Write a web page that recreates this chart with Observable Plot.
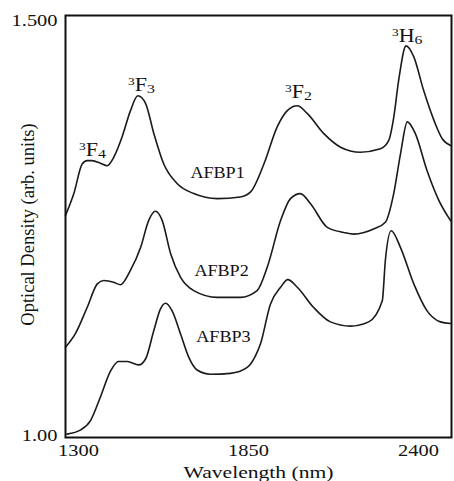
<!DOCTYPE html>
<html>
<head>
<meta charset="utf-8">
<script src="https://cdn.jsdelivr.net/npm/d3@7"></script>
<script src="https://cdn.jsdelivr.net/npm/@observablehq/plot@0.6"></script>
<style>
  html, body { margin: 0; padding: 0; background: #fff; }
  #chart svg { display: block; }
</style>
</head>
<body>
<div id="chart"></div>
<script>
// ---- data ----
const wavelength1 = [1258, 1285, 1312, 1328, 1344, 1371, 1393, 1414, 1441, 1468, 1492, 1517, 1544, 1576, 1619, 1673, 1749, 1824, 1857, 1900, 1943, 1975, 2008, 2040, 2094, 2148, 2212, 2277, 2304, 2320, 2336, 2360, 2385, 2417, 2450, 2477, 2504];
const od1 = [1.263, 1.289, 1.324, 1.328, 1.328, 1.325, 1.322, 1.332, 1.356, 1.387, 1.405, 1.396, 1.360, 1.324, 1.301, 1.289, 1.283, 1.285, 1.291, 1.324, 1.368, 1.387, 1.393, 1.384, 1.360, 1.344, 1.338, 1.342, 1.352, 1.379, 1.423, 1.464, 1.451, 1.411, 1.376, 1.354, 1.346];

const wavelength2 = [1258, 1290, 1328, 1361, 1382, 1414, 1436, 1468, 1501, 1527, 1549, 1571, 1598, 1630, 1673, 1749, 1824, 1878, 1911, 1954, 1986, 2018, 2051, 2105, 2158, 2191, 2255, 2293, 2320, 2342, 2364, 2390, 2428, 2466, 2504];
const od2 = [1.107, 1.123, 1.154, 1.182, 1.186, 1.184, 1.181, 1.198, 1.225, 1.257, 1.268, 1.257, 1.218, 1.190, 1.174, 1.166, 1.166, 1.174, 1.202, 1.257, 1.283, 1.289, 1.277, 1.249, 1.243, 1.241, 1.247, 1.255, 1.289, 1.336, 1.374, 1.360, 1.316, 1.281, 1.257];

const wavelength3 = [1263, 1307, 1339, 1371, 1404, 1430, 1458, 1495, 1517, 1544, 1565, 1582, 1603, 1630, 1657, 1684, 1727, 1792, 1846, 1873, 1889, 1921, 1954, 1977, 2008, 2061, 2115, 2180, 2239, 2283, 2293, 2312, 2342, 2385, 2428, 2471, 2504];
const od3 = [1.004, 1.009, 1.020, 1.048, 1.079, 1.090, 1.090, 1.086, 1.093, 1.127, 1.152, 1.159, 1.150, 1.123, 1.095, 1.080, 1.075, 1.076, 1.083, 1.097, 1.111, 1.158, 1.178, 1.187, 1.178, 1.154, 1.137, 1.132, 1.137, 1.162, 1.210, 1.245, 1.225, 1.182, 1.150, 1.137, 1.135];

const seriesNames = ["AFBP1", "AFBP2", "AFBP3"];
const seriesLabelX = [1750, 1763, 1769];
const seriesLabelY = [1.314, 1.198, 1.119];

const peakNames = ["3F4", "3F3", "3F2", "3H6"];
const peakX = [1345, 1504, 2012, 2364];
const peakY = [1.340, 1.417, 1.409, 1.475];

const xTicks = [1300, 1850, 2400];
const yTicks = [1.0, 1.5];
const yTickLabels = ["1.00", "1.500"];

const xTitle = "Wavelength (nm)";
const yTitle = "Optical Density (arb. units)";

// ---- build tables ----
const curves = [
  ...wavelength1.map((w, i) => ({series: seriesNames[0], w, od: od1[i]})),
  ...wavelength2.map((w, i) => ({series: seriesNames[1], w, od: od2[i]})),
  ...wavelength3.map((w, i) => ({series: seriesNames[2], w, od: od3[i]}))
];
const seriesLabels = seriesNames.map((s, i) => ({s, x: seriesLabelX[i], y: seriesLabelY[i]}));
const peaks = peakNames.map((p, i) => ({p, x: peakX[i], y: peakY[i]}));

const FONT = "'Liberation Serif', 'Times New Roman', serif";
const INK = "#111";

const chart = Plot.plot({
  width: 454,
  height: 481,
  marginLeft: 65,
  marginRight: 3,
  marginTop: 15,
  marginBottom: 44,
  style: {fontFamily: FONT, color: INK, background: "#fff", overflow: "visible"},
  x: {domain: [1258, 2507]},
  y: {domain: [1.0, 1.5]},
  marks: [
    Plot.line(curves, {x: "w", y: "od", z: "series", stroke: "#1a1a1a", strokeWidth: 1.6, curve: "monotone-x"}),
    Plot.frame({stroke: INK, strokeWidth: 2}),
    Plot.axisX({ticks: xTicks, tickSize: 0, tickPadding: 6, fontSize: 17, label: null, tickFormat: d => String(d), fill: INK}),
    Plot.axisY({ticks: [], label: null}),
    Plot.text([yTickLabels[1]], {x: () => 1258, y: () => yTicks[1], text: d => d, textAnchor: "end", dx: -8, dy: 5, fontSize: 17, fill: INK}),
    Plot.text([yTickLabels[0]], {x: () => 1258, y: () => yTicks[0], text: d => d, textAnchor: "end", dx: -8, dy: -2, fontSize: 17, fill: INK}),
    Plot.text(seriesLabels, {x: "x", y: "y", text: "s", fontSize: 16, fill: INK}),
    Plot.text(peaks, {x: "x", y: "y", text: "p", fontSize: 17, fill: INK}),
    Plot.text([xTitle], {frameAnchor: "bottom", dy: 35, text: d => d, fontSize: 17, fill: INK, lineAnchor: "middle"}),
    Plot.text([yTitle], {frameAnchor: "left", textAnchor: "middle", dx: -37, dy: -2, rotate: -90, text: d => d, fontSize: 18.5, fill: INK})
  ]
});

// superscript / subscript formatting for spectroscopic term symbols
const ns = "http://www.w3.org/2000/svg";
chart.querySelectorAll("text").forEach(t => {
  const m = /^(\d)([A-Z])(\d)$/.exec(t.textContent);
  if (!m) return;
  t.textContent = "";
  t.setAttribute("data-term", "1");
  const a = document.createElementNS(ns, "tspan");
  a.setAttribute("font-size", "11"); a.setAttribute("dy", "-6"); a.textContent = m[1];
  const b = document.createElementNS(ns, "tspan");
  b.setAttribute("font-size", "18"); b.setAttribute("dy", "6"); b.textContent = m[2];
  const c = document.createElementNS(ns, "tspan");
  c.setAttribute("font-size", "13"); c.setAttribute("dy", "2"); c.textContent = m[3];
  t.append(a, b, c);
});

document.getElementById("chart").append(chart);

// the reference lettering is set wider than the stock face: widen horizontal texts
chart.querySelectorAll("text").forEach(t => {
  const s = t.textContent;
  let f = 1;
  if (t.getAttribute("data-term")) f = 1.22;
  else if (s === xTitle) f = 1.27;
  else if (seriesNames.includes(s)) f = 1.13;
  else if (/^[\d.]+$/.test(s)) f = 1.2;
  if (f === 1) return;
  const len = t.getComputedTextLength();
  t.setAttribute("textLength", (len * f).toFixed(1));
  t.setAttribute("lengthAdjust", "spacingAndGlyphs");
});
</script>
</body>
</html>
